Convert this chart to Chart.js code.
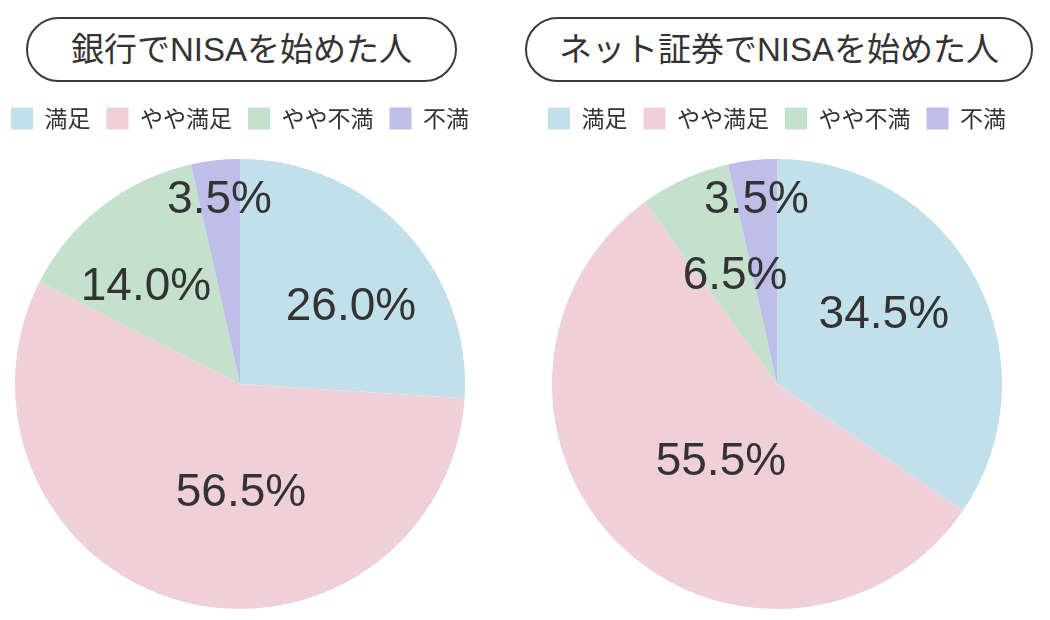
<!DOCTYPE html>
<html lang="ja">
<head>
<meta charset="utf-8">
<title>NISA 満足度</title>
<script src="https://cdn.jsdelivr.net/npm/chart.js@4.4.1/dist/chart.umd.min.js"></script>
<style>
  html, body {
    margin: 0;
    padding: 0;
    width: 1050px;
    height: 620px;
    overflow: hidden;
    background: #ffffff;
    font-family: 'Liberation Sans', 'Noto Sans CJK JP', sans-serif;
  }
  .title {
    position: absolute;
    top: 17px;
    height: 61px;
    box-sizing: content-box;
    border: 2px solid #3a3a3a;
    border-radius: 33px;
    color: #333333;
    font-size: 33px;
    line-height: 61px;
    text-align: center;
  }
  .chart-box {
    position: absolute;
    top: 91px;
    width: 520px;
    height: 537px;
  }
</style>
</head>
<body>
<div class="title" style="left:26px; width:427px;">銀行でNISAを始めた人</div>
<div class="title" style="left:525px; width:504px;">ネット証券でNISAを始めた人</div>
<div class="chart-box" style="left:-20px;"><canvas id="bankChart"></canvas></div>
<div class="chart-box" style="left:517px;"><canvas id="netChart"></canvas></div>
<script>
// satisfaction categories and share of respondents (%)
const categories = ['満足', 'やや満足', 'やや不満', '不満'];
const bankValues = [26.0, 56.5, 14.0, 3.5];
const netValues = [34.5, 55.5, 6.5, 3.5];

const sliceColors = ['#c2e0e9', '#efd0d9', '#c4e1cd', '#bebee9'];

// where each percentage label sits: [fraction of radius, angle shift in degrees]
const bankLabelPlacement = [[0.605, 7.8], [0.476, -15.8], [0.607, -5.7], [0.83, 0]];
const netLabelPlacement = [[0.57, -5.7], [0.42, -7.7], [0.52, 3.3], [0.83, 0]];

// simple in-slice percentage labels
const sliceLabels = {
  id: 'sliceLabels',
  afterDatasetsDraw(chart, args, opts) {
    const ctx = chart.ctx;
    const meta = chart.getDatasetMeta(0);
    const values = chart.data.datasets[0].data;
    ctx.save();
    ctx.fillStyle = '#333333';
    ctx.font = '46px "Liberation Sans", "Noto Sans CJK JP", sans-serif';
    ctx.textAlign = 'center';
    ctx.textBaseline = 'middle';
    meta.data.forEach(function (arc, i) {
      const p = arc.getProps(['x', 'y', 'startAngle', 'endAngle', 'outerRadius'], true);
      const place = opts.placement[i];
      const angle = (p.startAngle + p.endAngle) / 2 + place[1] * Math.PI / 180;
      const r = p.outerRadius * place[0];
      ctx.fillText(values[i].toFixed(1) + '%', p.x + Math.cos(angle) * r, p.y + Math.sin(angle) * r + 2);
    });
    ctx.restore();
  }
};

function makePie(canvasId, values, placement) {
  const ctx = document.getElementById(canvasId).getContext('2d');
  return new Chart(ctx, {
    type: 'pie',
    data: {
      labels: categories,
      datasets: [
        {
          data: values,
          backgroundColor: sliceColors,
          borderWidth: 0,
          radius: 225
        }
      ]
    },
    options: {
      responsive: true,
      maintainAspectRatio: false,
      animation: false,
      layout: {
        padding: 0
      },
      plugins: {
        legend: {
          display: true,
          position: 'top',
          labels: {
            boxWidth: 22,
            boxHeight: 22,
            padding: 16,
            color: '#333333',
            font: {
              size: 23,
              family: '"Noto Sans CJK JP", sans-serif'
            }
          }
        },
        tooltip: {
          enabled: false
        },
        sliceLabels: {
          placement: placement
        }
      }
    },
    plugins: [sliceLabels]
  });
}

makePie('bankChart', bankValues, bankLabelPlacement);
makePie('netChart', netValues, netLabelPlacement);
</script>
</body>
</html>
